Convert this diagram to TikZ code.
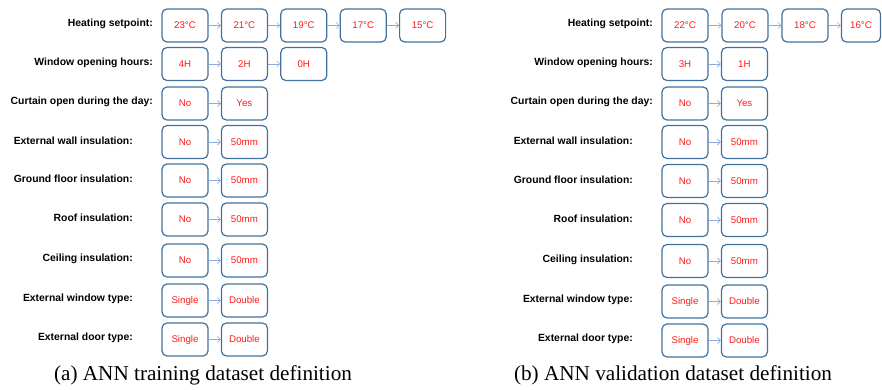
\documentclass[tikz,border=0pt]{standalone}
\usepackage{fontspec}
\setmainfont{Liberation Serif}
\setsansfont{Liberation Sans}
\usetikzlibrary{arrows.meta}
\definecolor{boxline}{HTML}{41719C}
\definecolor{flow}{HTML}{8FAADC}
\definecolor{valred}{HTML}{FF1A1A}

% One parameter row: #1 name prefix, #2 label right edge, #3 row centre,
% #4 label, #5 centre of the first value box, #6 the values in order
\newcommand\valuerow[6]{%
  \node[param] (#1-lab) at (#2,#3-1.5) {#4};
  \foreach \v [count=\i] in {#6} {
    \node[valbox] (#1-\i) at ({#5+59.4*(\i-1)},#3) {\v};
    \ifnum\i>1
      \pgfmathtruncatemacro\prev{\i-1}
      \draw[flowarrow] (#1-\prev) -- (#1-\i);
    \fi
  }
}

\begin{document}
\begin{tikzpicture}[x=1pt,y=-1pt,
  valbox/.style={draw=boxline, line width=1.2pt, rounded corners=5pt,
    minimum width=46pt, minimum height=33pt, inner sep=0pt, text=valred,
    font=\sffamily\fontsize{9.7}{11}\selectfont},
  param/.style={anchor=east, inner sep=0pt,
    font=\sffamily\bfseries\fontsize{10.4}{12}\selectfont},
  flowarrow/.style={draw=flow, line width=0.6pt,
    -{Straight Barb[length=3pt,width=6pt]}},
  caption/.style={font=\fontsize{21.2}{25}\selectfont, inner sep=0pt}]
\useasboundingbox (0,0) rectangle (882,389);

% (a) training dataset
\valuerow{ah}{153}{25.5}{Heating setpoint:}{185}{23°C,21°C,19°C,17°C,15°C}
\valuerow{aw}{153}{64}{Window opening hours:}{185}{4H,2H,0H}
\valuerow{ac}{153}{103.5}{Curtain open during the day:}{185}{No,Yes}
\valuerow{aew}{133}{142}{External wall insulation:}{185}{No,50mm}
\valuerow{agf}{133}{180.5}{Ground floor insulation:}{185}{No,50mm}
\valuerow{ar}{133}{219.5}{Roof insulation:}{185}{No,50mm}
\valuerow{aci}{133}{260.5}{Ceiling insulation:}{185}{No,50mm}
\valuerow{awt}{133}{300.5}{External window type:}{185}{Single,Double}
\valuerow{adt}{133}{339.5}{External door type:}{185}{Single,Double}
\node[caption] (capa) at (203,375) {(a) ANN training dataset definition};

% (b) validation dataset
\node[param] (bh-lab) at (653,24) {Heating setpoint:};
\node[valbox] (bh-1) at (685,25.5) {22°C};
\node[valbox] (bh-2) at (745,25.5) {20°C};
\node[valbox] (bh-3) at (805,25.5) {18°C};
\node[valbox, minimum width=39pt] (bh-4) at (861,25.5) {16°C};
\draw[flowarrow] (bh-1) -- (bh-2);
\draw[flowarrow] (bh-2) -- (bh-3);
\draw[flowarrow] (bh-3) -- (bh-4);
\valuerow{bw}{653}{64}{Window opening hours:}{685}{3H,1H}
\valuerow{bc}{653}{103.5}{Curtain open during the day:}{685}{No,Yes}
\valuerow{bew}{633}{142}{External wall insulation:}{685}{No,50mm}
\valuerow{bgf}{633}{181}{Ground floor insulation:}{685}{No,50mm}
\valuerow{br}{633}{220}{Roof insulation:}{685}{No,50mm}
\valuerow{bci}{633}{261}{Ceiling insulation:}{685}{No,50mm}
\valuerow{bwt}{633}{301.5}{External window type:}{685}{Single,Double}
\valuerow{bdt}{633}{340.5}{External door type:}{685}{Single,Double}
\node[caption] (capb) at (673,375) {(b) ANN validation dataset definition};
\end{tikzpicture}
\end{document}
